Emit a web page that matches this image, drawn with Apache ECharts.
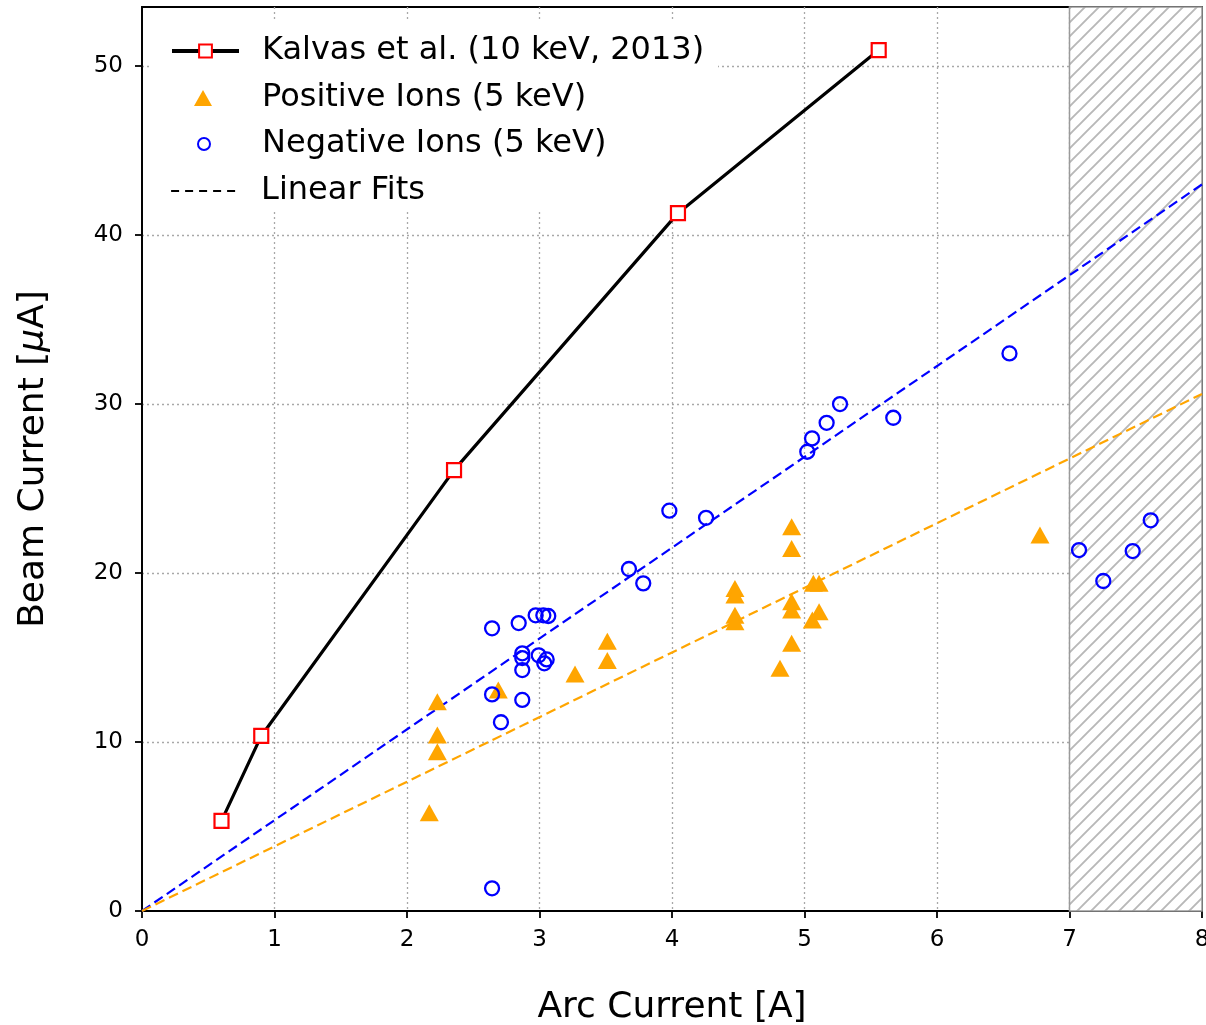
<!DOCTYPE html>
<html>
<head>
<meta charset="utf-8">
<script src="https://cdn.jsdelivr.net/npm/echarts@6/dist/echarts.min.js"></script>
<style>html,body{margin:0;padding:0;background:#fff;overflow:hidden}#c{width:1206px;height:1025px}</style>
</head>
<body>
<div id="c"></div>
<script>
// ---- data ----
const kalvasX = [0.60, 0.90, 2.355, 4.045, 5.56];
const kalvasY = [5.33, 10.36, 26.09, 41.30, 50.95];

const posX = [2.168, 2.229, 2.229, 2.229, 2.689, 3.268, 3.512, 3.512, 4.475, 4.475, 4.475, 4.475, 4.815, 4.903, 4.903, 4.903, 4.903, 4.903, 5.067, 5.110, 5.110, 5.059, 6.777];
const posY = [5.82, 12.39, 10.41, 9.43, 13.08, 14.02, 15.96, 14.82, 19.09, 18.70, 17.51, 17.12, 14.36, 22.74, 21.45, 18.30, 17.81, 15.84, 19.39, 19.39, 17.71, 17.22, 22.25];

const negX = [3.980, 3.675, 3.783, 2.642, 2.843, 2.971, 3.029, 3.066, 2.870, 2.870, 2.870, 2.994, 3.054, 3.036, 2.642, 2.870, 2.709, 2.642, 6.547, 5.268, 5.167, 5.057, 5.021, 5.670, 4.257, 7.072, 7.255, 7.477, 7.613];
const negY = [23.69, 20.24, 19.39, 16.73, 17.04, 17.50, 17.50, 17.46, 15.25, 14.97, 14.26, 15.13, 14.89, 14.66, 12.82, 12.49, 11.17, 1.34, 33.00, 30.00, 28.89, 27.97, 27.18, 29.19, 23.27, 21.36, 19.53, 21.30, 23.12];

const fitPosX = [0, 8];
const fitPosY = [0, 30.6];
const fitNegX = [0, 8];
const fitNegY = [0, 43.0];

const xTicks = [0, 1, 2, 3, 4, 5, 6, 7, 8];
const yTicks = [0, 10, 20, 30, 40, 50];
const hatchRange = [7, 8];

const names = ['Kalvas et al. (10 keV, 2013)', 'Positive Ions (5 keV)', 'Negative Ions (5 keV)', 'Linear Fits'];

// ---- helpers ----
const zip = (a, b) => a.map((v, i) => [v, b[i]]);

function hatchPattern() {
  const s = 14;
  const cv = document.createElement('canvas');
  cv.width = s; cv.height = s;
  const g = cv.getContext('2d');
  g.fillStyle = '#ffffff';
  g.fillRect(0, 0, s, s);
  g.strokeStyle = '#b8b8b8';
  g.lineWidth = 1.9;
  g.beginPath();
  g.moveTo(-2, s + 2); g.lineTo(s + 2, -2);
  g.moveTo(-2, 2); g.lineTo(2, -2);
  g.moveTo(s - 2, s + 2); g.lineTo(s + 2, s - 2);
  g.stroke();
  return cv;
}

const FONT = '"DejaVu Sans", sans-serif';
const chart = echarts.init(document.getElementById('c'), null, {renderer: 'canvas'});

const legendText = (pad) => ({fontFamily: FONT, fontSize: 32, color: '#000', padding: [0, 0, 0, pad], lineHeight: 36});
const legendRowCenters = [49, 96, 142, 189];
function mkLegend(i, left, w, h, pad, extra) {
  return Object.assign({
    orient: 'vertical', left: left, top: legendRowCenters[i] - 16, padding: 0, z: 10,
    itemWidth: w, itemHeight: h, data: [names[i]], textStyle: legendText(pad)
  }, extra || {});
}

const gridLine = {show: true, showMinLine: false, showMaxLine: false,
                  lineStyle: {color: '#a8a8a8', type: [2, 3], width: 1.3}};

const option = {
  animation: false,
  backgroundColor: '#fff',
  textStyle: {fontFamily: FONT},
  grid: {left: 142, right: 4, top: 7, bottom: 114, show: true, borderColor: '#000', borderWidth: 1.8,
         backgroundColor: 'transparent', outerBoundsMode: 'none', containLabel: false},
  graphic: [{type: 'rect', left: 152, top: 20, z: 2, silent: true,
             shape: {width: 566, height: 192}, style: {fill: '#fff'}}],
  legend: [
    mkLegend(0, 170, 67, 16, 18, {lineStyle: {width: 4}}),
    mkLegend(1, 194, 18, 16, 45),
    mkLegend(2, 197, 12, 12, 47),
    mkLegend(3, 170, 67, 16, 18, {lineStyle: {width: 2.2, type: [8, 6]}})
  ],
  xAxis: {
    type: 'value', min: xTicks[0], max: xTicks[xTicks.length - 1], interval: 1,
    name: 'Arc Current [A]', nameLocation: 'middle', nameGap: 79,
    nameTextStyle: {fontFamily: FONT, fontSize: 36, color: '#000'},
    axisLine: {show: true, lineStyle: {color: '#000', width: 1.8}},
    axisTick: {show: true, length: 7, lineStyle: {color: '#000', width: 1.8}},
    axisLabel: {fontFamily: FONT, fontSize: 23, color: '#000', margin: 18},
    splitLine: gridLine
  },
  yAxis: {
    type: 'value', min: yTicks[0], max: 53.5, interval: 10,
    name: 'Beam Current [{i|μ}A]', nameLocation: 'middle', nameGap: 90,
    nameTextStyle: {fontFamily: FONT, fontSize: 36, color: '#000', rich: {i: {fontFamily: FONT, fontSize: 36, fontStyle: 'italic', color: '#000'}}},
    axisLine: {show: true, lineStyle: {color: '#000', width: 1.8}},
    axisTick: {show: true, length: 7, lineStyle: {color: '#000', width: 1.8}},
    axisLabel: {fontFamily: FONT, fontSize: 23, color: '#000', margin: 19, showMaxLabel: false,
      formatter: v => (yTicks.indexOf(v) >= 0 ? String(v) : '')},
    splitLine: gridLine
  },
  series: [
    {
      type: 'line', name: 'hatch', data: [], z: 1, silent: true,
      markArea: {
        silent: true,
        itemStyle: {color: {image: hatchPattern(), repeat: 'repeat'}, borderColor: '#9a9a9a', borderWidth: 1.5},
        data: [[{xAxis: hatchRange[0]}, {xAxis: hatchRange[1]}]]
      }
    },
    {
      type: 'line', name: 'fitNeg', data: zip(fitNegX, fitNegY), symbol: 'none', z: 3,
      lineStyle: {color: '#0000ff', width: 2.2, type: [10, 5]}
    },
    {
      type: 'line', name: 'fitPos', data: zip(fitPosX, fitPosY), symbol: 'none', z: 3,
      lineStyle: {color: '#ffa500', width: 2.2, type: [10, 5]}
    },
    {
      type: 'line', name: names[0], data: zip(kalvasX, kalvasY), z: 5,
      symbol: 'rect', symbolSize: 14,
      lineStyle: {color: '#000', width: 3.2},
      itemStyle: {color: '#fff', borderColor: '#ff0000', borderWidth: 2.2}
    },
    {
      type: 'scatter', name: names[1], data: zip(posX, posY), z: 4,
      symbol: 'triangle', symbolSize: [19, 17],
      itemStyle: {color: '#ffa500', opacity: 1}
    },
    {
      type: 'scatter', name: names[2], data: zip(negX, negY), z: 4,
      symbol: 'circle', symbolSize: 14,
      itemStyle: {color: 'rgba(255,255,255,0)', borderColor: '#0000ff', borderWidth: 2.3, opacity: 1}
    },
    {
      type: 'line', name: names[3], data: [], symbol: 'none',
      lineStyle: {color: '#000', width: 2.2, type: [8, 6]},
      itemStyle: {color: 'rgba(0,0,0,0)', borderWidth: 0}
    }
  ]
};
chart.setOption(option);
</script>
</body>
</html>
